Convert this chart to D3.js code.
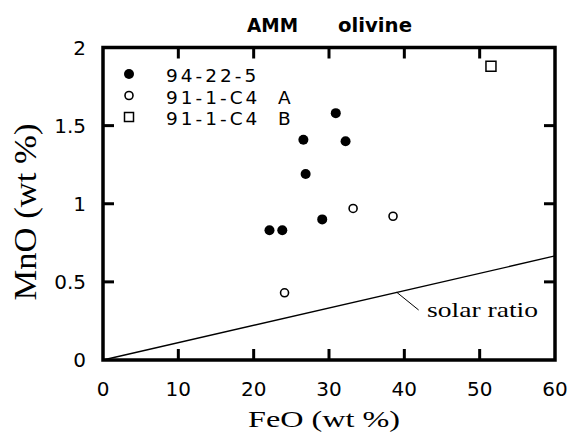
<!DOCTYPE html>
<html>
<head>
<meta charset="utf-8">
<script src="https://cdn.jsdelivr.net/npm/d3@7"></script>
<style>
  body { margin: 0; background: #fff; }
  text { fill: #000; }
</style>
</head>
<body>
<div id="app"></div>
<script>
// sample 94-22-5 (filled circles)
let fe94 = [22.1, 23.8, 29.1, 26.9, 26.6, 32.2, 30.9];
let mn94 = [0.83, 0.83, 0.90, 1.19, 1.41, 1.40, 1.58];
// sample 91-1-C4 A (open circles)
let feA = [33.2, 38.5, 24.1];
let mnA = [0.97, 0.92, 0.43];
// sample 91-1-C4 B (open square)
let feB = [51.5];
let mnB = [1.88];
// solar ratio line and its label leader
let solarFe = [0, 60];
let solarMn = [0, 0.666];
let leaderFe = [39, 41.9];
let leaderMn = [0.433, 0.32];

let xTicks = [0, 10, 20, 30, 40, 50, 60];
let yTicks = [0, 0.5, 1, 1.5, 2];
let yTickLabels = ["0", "0.5", "1", "1.5", "2"];
let legendNames = ["94-22-5", "91-1-C4  A", "91-1-C4  B"];

let width = 569;
let height = 434;

let svg = d3.select("#app")
.append("svg")
    .attr("width", width)
    .attr("height", height)

let x = d3.scaleLinear().domain([0, 60]).range([103, 555]);
let y = d3.scaleLinear().domain([0, 2]).range([360, 47.5]);

let sans = "DejaVu Sans, sans-serif";
let serif = "Liberation Serif, Times New Roman, serif";

// solar ratio line
let line = d3.line().x(d => x(d[0])).y(d => y(d[1]));
svg.append("path")
    .attr("d", line(d3.zip(solarFe, solarMn)))
    .attr("fill", "none")
    .attr("stroke", "#000")
    .attr("stroke-width", 1.3)
svg.append("path")
    .attr("d", line(d3.zip(leaderFe, leaderMn)))
    .attr("fill", "none")
    .attr("stroke", "#000")
    .attr("stroke-width", 1)
svg.append("text")
    .attr("x", 427)
    .attr("y", 316.5)
    .attr("font-family", serif)
    .attr("font-size", 22)
    .attr("textLength", 111)
    .attr("lengthAdjust", "spacingAndGlyphs")
    .text("solar ratio")

// frame
svg.append("rect")
    .attr("x", x(0))
    .attr("y", y(2))
    .attr("width", x(60) - x(0))
    .attr("height", y(0) - y(2))
    .attr("fill", "none")
    .attr("stroke", "#000")
    .attr("stroke-width", 3.5)

// inward ticks on all four sides (skip the corner values)
let tickLen = 11;
let innerX = xTicks.slice(1, -1);
let innerY = yTicks.slice(1, -1);
let tickGroup = svg.append("g")
    .attr("stroke", "#000")
    .attr("stroke-width", 3)
tickGroup.selectAll("line.xb")
    .data(innerX)
    .enter()
    .append("line")
        .attr("class", "xb")
        .attr("x1", d => x(d)).attr("x2", d => x(d))
        .attr("y1", y(0)).attr("y2", y(0) - tickLen)
tickGroup.selectAll("line.xt")
    .data(innerX)
    .enter()
    .append("line")
        .attr("class", "xt")
        .attr("x1", d => x(d)).attr("x2", d => x(d))
        .attr("y1", y(2)).attr("y2", y(2) + tickLen)
tickGroup.selectAll("line.yl")
    .data(innerY)
    .enter()
    .append("line")
        .attr("class", "yl")
        .attr("y1", d => y(d)).attr("y2", d => y(d))
        .attr("x1", x(0)).attr("x2", x(0) + tickLen)
tickGroup.selectAll("line.yr")
    .data(innerY)
    .enter()
    .append("line")
        .attr("class", "yr")
        .attr("y1", d => y(d)).attr("y2", d => y(d))
        .attr("x1", x(60)).attr("x2", x(60) - tickLen)

// tick labels
svg.append("g").selectAll("text")
    .data(xTicks)
    .enter()
    .append("text")
        .attr("x", d => x(d))
        .attr("y", 396)
        .attr("text-anchor", "middle")
        .attr("font-family", sans)
        .attr("font-size", 20)
        .text(d => d)
svg.append("g").selectAll("text")
    .data(yTicks)
    .enter()
    .append("text")
        .attr("x", 86)
        .attr("y", d => y(d) + 7)
        .attr("text-anchor", "end")
        .attr("font-family", sans)
        .attr("font-size", 20)
        .text((d, i) => yTickLabels[i])

// axis titles
svg.append("text")
    .attr("x", 324)
    .attr("y", 426.5)
    .attr("text-anchor", "middle")
    .attr("font-family", serif)
    .attr("font-size", 23)
    .attr("textLength", 152)
    .attr("lengthAdjust", "spacingAndGlyphs")
    .text("FeO (wt %)")
svg.append("text")
    .attr("transform", "translate(36,212) rotate(-90)")
    .attr("text-anchor", "middle")
    .attr("font-family", serif)
    .attr("font-size", 32)
    .attr("textLength", 177)
    .attr("lengthAdjust", "spacingAndGlyphs")
    .text("MnO (wt %)")

// title
svg.append("text")
    .attr("x", 247)
    .attr("y", 31.5)
    .attr("font-family", sans)
    .attr("font-weight", "bold")
    .attr("font-size", 19)
    .attr("textLength", 51)
    .attr("lengthAdjust", "spacingAndGlyphs")
    .text("AMM")
svg.append("text")
    .attr("x", 338)
    .attr("y", 31.5)
    .attr("font-family", sans)
    .attr("font-weight", "bold")
    .attr("font-size", 19)
    .attr("textLength", 74)
    .attr("lengthAdjust", "spacingAndGlyphs")
    .text("olivine")

// data points
svg.append("g").selectAll("circle")
    .data(d3.zip(fe94, mn94))
    .enter()
    .append("circle")
        .attr("cx", d => x(d[0]))
        .attr("cy", d => y(d[1]))
        .attr("r", 5)
        .attr("fill", "#000")
svg.append("g").selectAll("circle")
    .data(d3.zip(feA, mnA))
    .enter()
    .append("circle")
        .attr("cx", d => x(d[0]))
        .attr("cy", d => y(d[1]))
        .attr("r", 4)
        .attr("fill", "#fff")
        .attr("stroke", "#000")
        .attr("stroke-width", 1.6)
svg.append("g").selectAll("rect")
    .data(d3.zip(feB, mnB))
    .enter()
    .append("rect")
        .attr("x", d => x(d[0]) - 5)
        .attr("y", d => y(d[1]) - 5)
        .attr("width", 10)
        .attr("height", 10)
        .attr("fill", "#fff")
        .attr("stroke", "#000")
        .attr("stroke-width", 1.5)

// legend
let legend = svg.append("g").attr("transform", "translate(129,74)");
let rowGap = 21.5;
legend.append("circle").attr("cx", 0).attr("cy", 0).attr("r", 5).attr("fill", "#000");
legend.append("circle").attr("cx", 0).attr("cy", rowGap).attr("r", 4)
    .attr("fill", "#fff").attr("stroke", "#000").attr("stroke-width", 1.6);
legend.append("rect").attr("x", -4.5).attr("y", 2 * rowGap - 4.5).attr("width", 9).attr("height", 9)
    .attr("fill", "#fff").attr("stroke", "#000").attr("stroke-width", 1.5);
legend.selectAll("text")
    .data(legendNames)
    .enter()
    .append("text")
        .attr("x", 37)
        .attr("y", (d, i) => i * rowGap + 8)
        .attr("font-family", sans)
        .attr("font-size", 18.5)
        .attr("letter-spacing", 3)
        .style("white-space", "pre")
        .text(d => d)
</script>
</body>
</html>
